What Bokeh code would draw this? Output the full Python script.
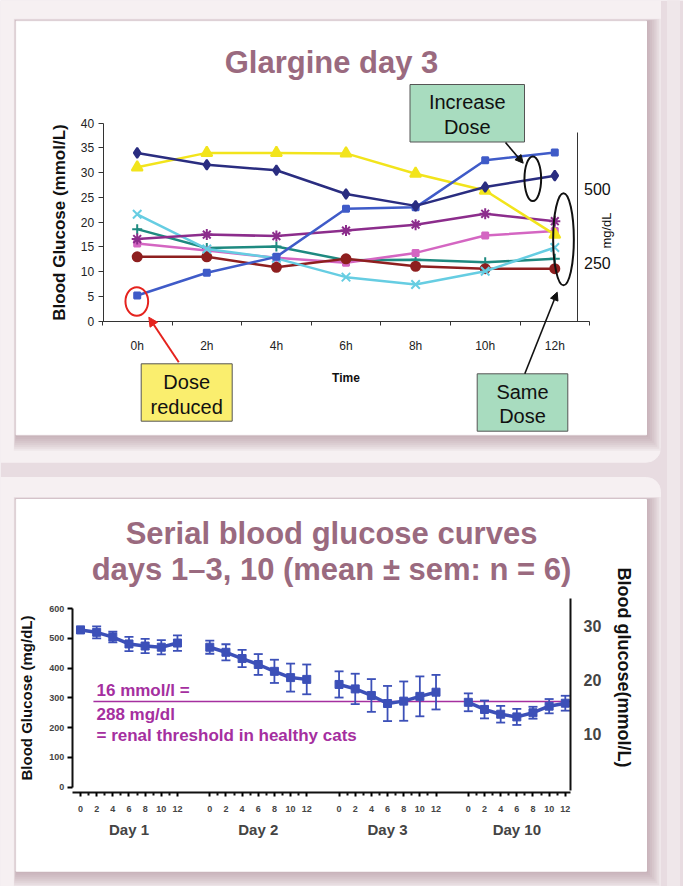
import math
from bokeh.plotting import figure
from bokeh.models import (Range1d, LinearAxis, FixedTicker, Arrow, NormalHead,
                          ColumnDataSource)
from bokeh.core.properties import value
from bokeh.embed import file_html
from bokeh.resources import INLINE

# ---------------- data: top chart (Glargine day 3), mmol/L ----------------
HOURS = [0, 2, 4, 6, 8, 10, 12]
HOUR_LABELS = ["0h", "2h", "4h", "6h", "8h", "10h", "12h"]
CAT_NAVY = [34.0, 31.6, 30.5, 25.7, 23.3, 27.1, 29.4]
CAT_YELLOW = [31.1, 34.0, 34.0, 33.9, 29.8, 26.4, 17.5]
CAT_BLUE = [5.2, 9.8, 13.0, 22.7, 23.0, 32.5, 34.1]
CAT_CYAN = [21.6, 14.6, 12.7, 8.9, 7.4, 10.1, 14.9]
CAT_TEAL = [18.6, 14.8, 15.1, 12.3, 12.4, 11.9, 12.6]
CAT_PURPLE = [16.6, 17.5, 17.2, 18.3, 19.5, 21.7, 20.2]
CAT_PINK = [15.7, 14.3, 12.8, 11.8, 13.8, 17.3, 18.2]
CAT_RED = [13.0, 13.0, 10.9, 12.6, 11.1, 10.6, 10.6]
MGDL_TICKS = [250, 500]

# ---------------- data: bottom chart (mean +/- sem, mg/dL) ----------------
TIMES = [0, 2, 4, 6, 8, 10, 12]
DAY_LABELS = ["Day 1", "Day 2", "Day 3", "Day 10"]
DAY1_MEAN = [528, 520, 504, 481, 474, 470, 484]
DAY1_SEM = [11, 20, 18, 24, 24, 24, 26]
DAY2_MEAN = [470, 453, 432, 412, 389, 368, 362]
DAY2_SEM = [22, 27, 29, 35, 39, 47, 50]
DAY3_MEAN = [345, 330, 308, 281, 289, 305, 319]
DAY3_SEM = [44, 51, 55, 59, 66, 67, 58]
DAY10_MEAN = [285, 261, 245, 236, 250, 272, 282]
DAY10_SEM = [30, 30, 28, 27, 20, 24, 25]
RENAL_THRESHOLD_MG = 288
MMOL_TICKS = [10, 20, 30]
DAY_SPACING = 16  # hours of axis space per day block

# ---------------- layout ----------------
W, H = 683, 886
X0, Y0 = 0, 0
X1, Y1 = X0 + W, Y0 + H

BG = "#E8DCE1"
PANEL = "#F6F0F2"
CARD = "#FFFFFF"
SHADOW = "#A87A90"
TITLE = "#9A6A7F"
FONT = "Liberation Sans"


def lin_range(va, pa, vb, pb, plo, phi):
    k = (vb - va) / (pb - pa)
    return Range1d(start=va + (plo - pa) * k, end=va + (phi - pa) * k)


p = figure(width=W, height=H, x_range=Range1d(X0, X1), y_range=Range1d(Y1, Y0),
           x_axis_location=None, y_axis_location=None, toolbar_location=None,
           output_backend="svg", min_border=0, background_fill_color=BG,
           border_fill_color=BG, outline_line_color=None)
p.grid.visible = False

p.extra_x_ranges = {
    "tx": lin_range(0, 136.7, 12, 554.3, X0, X1),
    "bx": lin_range(0, 80.0, 60, 564.8, X0, X1),
}
p.extra_y_ranges = {
    "ty": lin_range(0, 320.7, 40, 122.7, Y1, Y0),
    "tmg": lin_range(250, 262.0, 500, 188.3, Y1, Y0),
    "by": lin_range(0, 786.7, 600, 608.0, Y1, Y0),
    "bmm": lin_range(0, 786.7, 600 / 18.0, 608.0, Y1, Y0),
}

# ---------------- background panels & cards ----------------
p.quad(left=[667], right=[679], top=[0], bottom=[900], color="#EFE7EA")
p.quad(left=[-20], right=[660], top=[-20], bottom=[461.7], color=PANEL, border_radius=14)
p.quad(left=[-20], right=[660], top=[477], bottom=[920], color=PANEL, border_radius=14)
for (ct, cb) in [(20.7, 434.3), (499.0, 870.7)]:
    for k in range(9):
        p.quad(left=[15.7 - 0.3 * k], right=[646 + 1.8 * k], top=[ct - 0.3 * k],
               bottom=[cb + 2.0 * k], fill_color=SHADOW, fill_alpha=0.085, line_color=None)
    p.quad(left=[15.7], right=[646], top=[ct], bottom=[cb], color=CARD)

# ---------------- top chart ----------------
p.text(x=[331], y=[62], text=["Glargine day 3"], text_font=value(FONT),
       text_font_style="bold", text_font_size="31px", text_color=TITLE,
       text_align="center", text_baseline="middle")

tyax = LinearAxis(y_range_name="ty", fixed_location=102.7, bounds=(0, 40),
                  ticker=FixedTicker(ticks=list(range(0, 41, 5))))
tyax.axis_line_color = "#333333"
tyax.major_tick_line_color = "#333333"
tyax.major_tick_out = 5
tyax.major_tick_in = 0
tyax.minor_tick_line_color = None
tyax.major_label_text_font = FONT
tyax.major_label_text_font_size = "12px"
tyax.major_label_text_color = "#222222"
tyax.major_label_standoff = 4
tyax.axis_label = "Blood Glucose (mmol/L)"
tyax.axis_label_text_font = FONT
tyax.axis_label_text_font_style = "bold"
tyax.axis_label_text_font_size = "17px"
tyax.axis_label_text_color = "#111111"
tyax.axis_label_standoff = 9
p.add_layout(tyax, "left")

txax = LinearAxis(x_range_name="tx", y_range_name="ty", fixed_location=0, bounds=(-1, 13),
                  ticker=FixedTicker(ticks=HOURS, minor_ticks=[-1, 1, 3, 5, 7, 9, 11, 13]))
txax.axis_line_color = "#333333"
txax.major_tick_out = 0
txax.major_tick_in = 0
txax.minor_tick_out = 4
txax.minor_tick_in = 0
txax.minor_tick_line_color = "#333333"
txax.major_label_overrides = {h: lab for h, lab in zip(HOURS, HOUR_LABELS)}
txax.major_label_text_font = FONT
txax.major_label_text_font_size = "12px"
txax.major_label_text_color = "#222222"
txax.major_label_standoff = 14
txax.axis_label = "Time"
txax.axis_label_text_font = FONT
txax.axis_label_text_font_style = "bold"
txax.axis_label_text_font_size = "12px"
txax.axis_label_text_color = "#111111"
txax.axis_label_standoff = 14
p.add_layout(txax, "below")

tmg = LinearAxis(y_range_name="tmg", fixed_location=576.5, bounds=(50, 692),
                 ticker=FixedTicker(ticks=MGDL_TICKS))
tmg.axis_line_color = "#333333"
tmg.major_tick_out = 0
tmg.major_tick_in = 0
tmg.minor_tick_line_color = None
tmg.major_label_text_font = FONT
tmg.major_label_text_font_size = "16px"
tmg.major_label_text_color = "#111111"
tmg.major_label_standoff = 7
p.add_layout(tmg, "right")
p.text(x=[606], y=[230], text=["mg/dL"], angle=math.pi / 2, text_font=value(FONT),
       text_font_size="13px", text_color="#111111", text_align="center",
       text_baseline="middle")

series = [
    (CAT_TEAL, "#1E8A80", "cross", 10),
    (CAT_PINK, "#D466C2", "square", 6),
    (CAT_RED, "#8E1F1F", "circle", 9),
    (CAT_CYAN, "#66CDE2", "x", 12),
    (CAT_PURPLE, "#8C2D8C", "asterisk", 11),
    (CAT_YELLOW, "#F2E41C", "triangle", 11),
    (CAT_BLUE, "#3F5BC8", "square", 6),
    (CAT_NAVY, "#2A2D80", "diamond", 10),
]
for vals, col, mk, sz in series:
    p.line(HOURS, vals, x_range_name="tx", y_range_name="ty", line_color=col, line_width=2.5)
    p.scatter(HOURS, vals, x_range_name="tx", y_range_name="ty", marker=mk, size=sz,
              fill_color=col, line_color=col, line_width=2)

# annotations top
p.ellipse(x=[136.3], y=[301], width=[22.7], height=[28.3], fill_color=None,
          line_color="#E5231E", line_width=2)
p.ellipse(x=[532.3], y=[178.3], width=[16.7], height=[44.7], fill_color=None,
          line_color="#111111", line_width=2)
p.ellipse(x=[563], y=[238.8], width=[20.7], height=[92.3], fill_color=None,
          line_color="#111111", line_width=2)
p.add_layout(Arrow(x_start=178.3, y_start=361.7, x_end=148.3, y_end=316.7,
                   line_color="#E5231E", line_width=2,
                   end=NormalHead(size=9, fill_color="#E5231E", line_color="#E5231E")))
p.add_layout(Arrow(x_start=505, y_start=142, x_end=522.7, y_end=162.7,
                   line_color="#111111", line_width=1.6,
                   end=NormalHead(size=8, fill_color="#111111", line_color="#111111")))
p.add_layout(Arrow(x_start=524.3, y_start=373.3, x_end=556.7, y_end=291.7,
                   line_color="#111111", line_width=1.6,
                   end=NormalHead(size=8, fill_color="#111111", line_color="#111111")))

boxes = [
    (409.5, 524.0, 84.0, 141.5, "#A8DCBF", ["Increase", "Dose"], [101.5, 126.0]),
    (476.7, 567.3, 373.3, 430.7, "#A8DCBF", ["Same", "Dose"], [391.0, 415.0]),
    (140.7, 231.7, 363.3, 420.7, "#FAEE6E", ["Dose", "reduced"], [381.7, 406.0]),
]
for l, r, t, b, fc, lines, ys in boxes:
    p.quad(left=[l], right=[r], top=[t], bottom=[b], fill_color=fc,
           line_color="#555555", line_width=1)
    p.text(x=[(l + r) / 2] * len(lines), y=ys, text=lines, text_font=value(FONT),
           text_font_size="20px", text_color="#111111", text_align="center",
           text_baseline="middle")

# ---------------- bottom chart ----------------
p.text(x=[331, 331], y=[533, 569],
       text=["Serial blood glucose curves", "days 1\u20133, 10 (mean \u00b1 sem: n = 6)"],
       text_font=value(FONT), text_font_style="bold", text_font_size="31px",
       text_color=TITLE, text_align="center", text_baseline="middle")

BLUE2 = "#3C50B8"
PURP = "#A52F9F"

byax = LinearAxis(y_range_name="by", fixed_location=71.7, bounds=(0, 600),
                  ticker=FixedTicker(ticks=list(range(0, 601, 100))))
byax.axis_line_width = 2
byax.axis_line_color = "#111111"
byax.major_tick_out = 5
byax.major_tick_in = 0
byax.major_tick_line_width = 2
byax.minor_tick_line_color = None
byax.major_label_text_font = FONT
byax.major_label_text_font_style = "bold"
byax.major_label_text_font_size = "9px"
byax.major_label_standoff = 3
byax.axis_label = "Blood Glucose (mg/dL)"
byax.axis_label_text_font = FONT
byax.axis_label_text_font_style = "bold"
byax.axis_label_text_font_size = "15px"
byax.axis_label_text_color = "#111111"
byax.axis_label_standoff = 11
p.add_layout(byax, "left")

major_b = [DAY_SPACING * i + t for i in range(len(DAY_LABELS)) for t in TIMES]
minor_b = [DAY_SPACING * i + t for i in range(len(DAY_LABELS)) for t in (1, 3, 5, 7, 9, 11)]
bxax = LinearAxis(x_range_name="bx", y_range_name="by", fixed_location=-18,
                  bounds=(-1.03, 60.64), ticker=FixedTicker(ticks=major_b, minor_ticks=minor_b))
bxax.axis_line_width = 2
bxax.axis_line_color = "#111111"
bxax.major_tick_out = 4
bxax.major_tick_in = 0
bxax.major_tick_line_width = 2
bxax.minor_tick_out = 3
bxax.minor_tick_in = 0
bxax.minor_tick_line_width = 2
bxax.minor_tick_line_color = "#111111"
bxax.major_label_overrides = {DAY_SPACING * i + t: str(t)
                              for i in range(len(DAY_LABELS)) for t in TIMES}
bxax.major_label_text_font = FONT
bxax.major_label_text_font_style = "bold"
bxax.major_label_text_font_size = "9px"
bxax.major_label_standoff = 9
p.add_layout(bxax, "below")

day_centers = [DAY_SPACING * i + 6 for i in range(len(DAY_LABELS))]
dax = LinearAxis(x_range_name="bx", y_range_name="by", fixed_location=-18,
                 ticker=FixedTicker(ticks=day_centers))
dax.axis_line_color = None
dax.major_tick_line_color = None
dax.minor_tick_line_color = None
dax.major_tick_out = 0
dax.major_tick_in = 0
dax.major_label_overrides = {c: lab for c, lab in zip(day_centers, DAY_LABELS)}
dax.major_label_text_font = FONT
dax.major_label_text_font_style = "bold"
dax.major_label_text_font_size = "15px"
dax.major_label_standoff = 28
p.add_layout(dax, "below")

bmm = LinearAxis(y_range_name="bmm", fixed_location=570, bounds=(-0.6, 35.2),
                 ticker=FixedTicker(ticks=MMOL_TICKS))
bmm.axis_line_width = 2
bmm.axis_line_color = "#111111"
bmm.major_tick_out = 0
bmm.major_tick_in = 0
bmm.minor_tick_line_color = None
bmm.major_label_text_font = FONT
bmm.major_label_text_font_style = "bold"
bmm.major_label_text_font_size = "16px"
bmm.major_label_standoff = 13
p.add_layout(bmm, "right")
p.text(x=[623], y=[667], text=["Blood glucose(mmol/L)"], angle=-math.pi / 2,
       text_font=value(FONT), text_font_style="bold", text_font_size="18px",
       text_color="#111111", text_align="center", text_baseline="middle")

# renal threshold line + text
p.segment(x0=[1.6], y0=[RENAL_THRESHOLD_MG], x1=[60.64], y1=[RENAL_THRESHOLD_MG],
          x_range_name="bx", y_range_name="by", line_color=PURP, line_width=1.5)
p.text(x=[96, 96, 96], y=[690, 713.5, 735],
       text=["16 mmol/l =", "288 mg/dl", "= renal threshold in healthy cats"],
       text_font=value(FONT), text_font_style="bold", text_font_size="17px",
       text_color=PURP, text_align="left", text_baseline="middle")

for i, (mean, sem) in enumerate([(DAY1_MEAN, DAY1_SEM), (DAY2_MEAN, DAY2_SEM),
                                 (DAY3_MEAN, DAY3_SEM), (DAY10_MEAN, DAY10_SEM)]):
    xs = [DAY_SPACING * i + t for t in TIMES]
    src = ColumnDataSource(dict(x=xs, y=mean,
                                upper=[m + s for m, s in zip(mean, sem)],
                                lower=[m - s for m, s in zip(mean, sem)]))
    p.segment(x0="x", y0="lower", x1="x", y1="upper", source=src,
              x_range_name="bx", y_range_name="by", line_color=BLUE2, line_width=1.8)
    p.scatter("x", "upper", source=src, x_range_name="bx", y_range_name="by",
              marker="dash", size=9, line_color=BLUE2, line_width=1.8)
    p.scatter("x", "lower", source=src, x_range_name="bx", y_range_name="by",
              marker="dash", size=9, line_color=BLUE2, line_width=1.8)
    p.line("x", "y", source=src, x_range_name="bx", y_range_name="by",
           line_color=BLUE2, line_width=3.5)
    p.scatter("x", "y", source=src, x_range_name="bx", y_range_name="by",
              marker="square", size=8, fill_color=BLUE2, line_color=BLUE2)

open("out.html", "w").write(file_html(p, INLINE))
